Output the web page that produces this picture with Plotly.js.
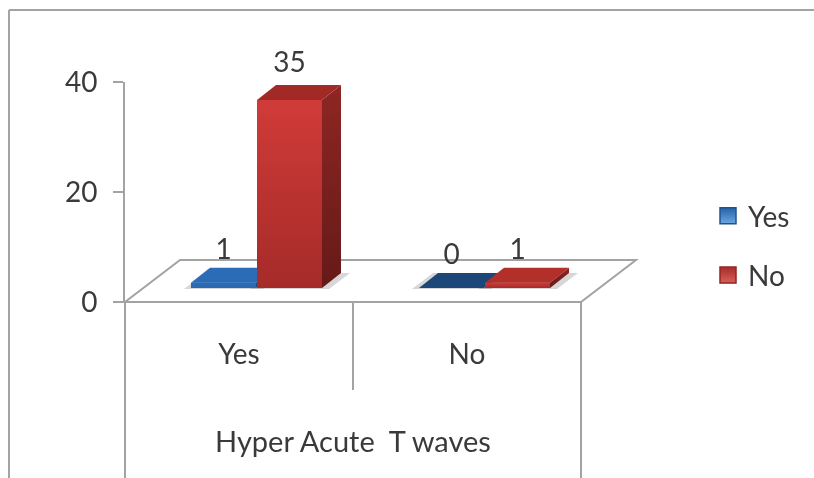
<!DOCTYPE html>
<html><head><meta charset="utf-8">
<script src="https://cdn.plot.ly/plotly-3.0.1.min.js"></script>
<style>html,body{margin:0;padding:0;background:#fff}#chart{filter:blur(0.5px)}</style></head>
<body><div id="chart" style="width:814px;height:478px"></div>
<script>
const categories = ["Yes", "No"];
const seriesNames = ["Yes", "No"];
const yesValues = [1, 0];
const noValues = [35, 1];
const yTicks = [0, 20, 40];
const axisTitle = "Hyper Acute  T waves";

const W = 814, H = 478;
const px = x => x / W, py = y => 1 - y / H;
const FONT = "Lato, 'Noto Sans', sans-serif", INK = "#3a3a3a", RULE = "#a3a3a3";
const catW = 228;                      // pixels per category
const unit = 188 / 35;                 // bar pixels per value unit
const toX = p => p / catW, toY = p => p / unit;
const barW = toX(65), dx = toX(19), dy = toY(15);
const offsets = [toX(-48), toX(18)];

const traces = [];
// front faces, from the data
[yesValues, noValues].forEach((vals, s) => traces.push({
  type: "bar", x: [0, 1], y: vals, xaxis: "x", yaxis: "y2", width: barW, offset: offsets[s],
  marker: {color: s ? "#b8312f" : "#2a68b0", line: {width: 0}}, showlegend: false, hoverinfo: "skip"
}));
function poly(xs, ys, color, grad) {
  const t = {type: "scatter", mode: "lines", x: [...xs, xs[0]], y: [...ys, ys[0]], xaxis: "x", yaxis: "y2",
    fill: "toself", line: {width: 0, color: color}, showlegend: false, hoverinfo: "skip"};
  if (grad) t.fillgradient = {type: "vertical", colorscale: grad}; else t.fillcolor = color;
  traces.push(t);
}
const looks = [
  {front: [[0, "#2a68b0"], [1, "#2c6cb6"]], side: "#1c4a80", top: v => v ? "#2c6cb6" : "#1d4679"},
  {front: [[0, "#a52b29"], [1, "#d03b38"]], side: [[0, "#651a18"], [1, "#8e2624"]], top: v => v > 1 ? "#a12a27" : "#b23029"}
];
const shadows = [];
categories.forEach((c, i) => {
  [yesValues, noValues].forEach((vals, s) => {
    const v = vals[i], L = i + offsets[s], R = L + barW, look = looks[s];
    shadows.push({type: "path", layer: "below", xref: "x", yref: "y2", fillcolor: "rgba(110,110,110,0.28)",
      line: {width: 0},
      path: `M${L - toX(7)},${toY(-1)} L${R + toX(7)},${toY(-1)} L${R + dx + toX(9)},${dy} L${L + dx - toX(5)},${dy} Z`});
    if (v > 0) {
      poly([L, R, R, L], [0, 0, v, v], "#c03432", look.front);
      const sideFill = Array.isArray(look.side) ? look.side : null;
      poly([R, R + dx, R + dx, R], [0, dy, v + dy, v], sideFill ? "#7a201e" : look.side, sideFill);
    }
    poly([L, R, R + dx, L + dx], [v, v, v + dy, v + dy], look.top(v));
  });
});
// value labels
const labelLift = 45 / 5.5;
[yesValues, noValues].forEach((vals, s) => traces.push({
  type: "scatter", mode: "text", x: [0, 1].map(i => i + offsets[s] + barW / 2), y: vals.map(v => v + labelLift),
  text: vals.map(String), textposition: "middle center", cliponaxis: false,
  textfont: {family: FONT, size: 28, color: INK}, xaxis: "x", yaxis: "y3", showlegend: false, hoverinfo: "skip"
}));
// legend entries
seriesNames.forEach((n, s) => traces.push({
  type: "scatter", mode: "markers", x: [null], y: [null], name: n, legendgroup: n,
  marker: {symbol: "square", size: 16, color: s ? "#a82c2a" : "#2462a8", line: {width: 1.5, color: s ? "#8e2624" : "#1f5490"},
    gradient: {type: "vertical", color: s ? "#d8605a" : "#6aa6e0"}},
  xaxis: "x", yaxis: "y"
}));

const line = (x0, y0, x1, y1, w) => ({type: "line", xref: "paper", yref: "paper", x0: px(x0), y0: py(y0), x1: px(x1), y1: py(y1),
  line: {color: RULE, width: w || 2}, layer: "below"});
const shapes = [
  line(9, 10, 9, 478), line(9, 10, 814, 10),
  {type: "path", xref: "paper", yref: "paper", layer: "below", fillcolor: "#fff", line: {color: RULE, width: 2},
   path: `M${px(125)},${py(302)} L${px(180)},${py(260)} L${px(636)},${py(260)} L${px(581)},${py(302)} Z`},
  line(125, 302, 125, 478), line(353, 302, 353, 390), line(581, 302, 581, 478),
  ...shadows
];

const layout = {
  width: W, height: H, margin: {l: 0, r: 0, t: 0, b: 0}, paper_bgcolor: "#fff", plot_bgcolor: "rgba(0,0,0,0)",
  barmode: "overlay", shapes,
  font: {family: FONT, size: 28, color: INK},
  xaxis: {type: "linear", domain: [px(125), px(581)], range: [-0.5, 1.5], tickmode: "array", tickvals: [0, 1], ticktext: categories,
    showgrid: false, zeroline: false, showline: false, ticks: "", anchor: "y", ticklabelstandoff: 33,
    tickfont: {family: FONT, size: 28, color: INK},
    title: {text: axisTitle, standoff: 62, font: {family: FONT, size: 29, color: INK}}},
  yaxis: {domain: [py(302), py(82)], range: [0, 40], tickmode: "array", tickvals: yTicks, showgrid: false, zeroline: false,
    showline: true, linecolor: RULE, linewidth: 2, ticks: "outside", ticklen: 10, tickwidth: 2, tickcolor: RULE,
    ticklabelstandoff: 10, tickfont: {family: FONT, size: 28, color: INK}, anchor: "x"},
  yaxis2: {domain: [py(288 + 2 * unit), py(288 - 40 * unit)], range: [-2, 40], visible: false, anchor: "x"},
  yaxis3: {domain: [py(302), py(27)], range: [0, 50], visible: false, anchor: "x"},
  legend: {x: px(708), y: py(191), xanchor: "left", yanchor: "top", bgcolor: "rgba(0,0,0,0)", tracegroupgap: 20,
    font: {family: FONT, size: 28, color: INK}, traceorder: "grouped"},
  hovermode: false
};
Plotly.newPlot("chart", traces, layout, {displayModeBar: false, staticPlot: true});
</script></body></html>
